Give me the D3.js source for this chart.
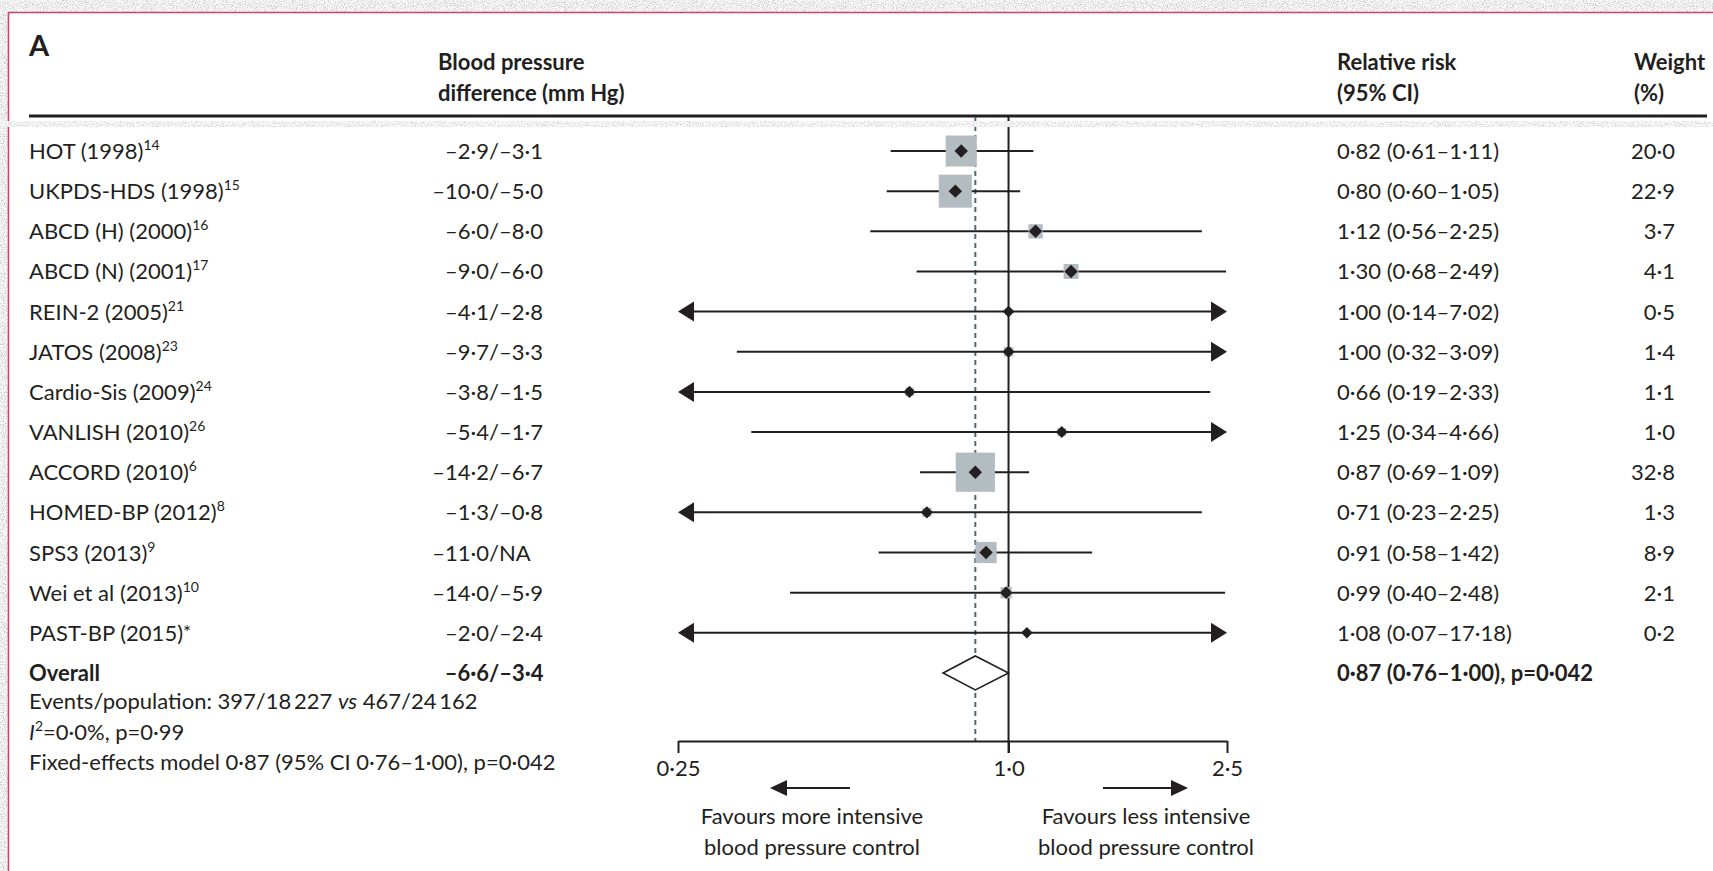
<!DOCTYPE html>
<html>
<head>
<meta charset="utf-8">
<script src="https://cdn.jsdelivr.net/npm/d3@7"></script>
<style>
  html, body { margin: 0; padding: 0; background: #fff; }
  svg { display: block; }
  text { font-family: Lato, "Noto Sans", sans-serif; fill: #231f20; }
</style>
</head>
<body>
<svg id="chart" width="1713" height="871"></svg>
<script>
// ---- Data -------------------------------------------------------------
const studies = ["HOT (1998)", "UKPDS-HDS (1998)", "ABCD (H) (2000)", "ABCD (N) (2001)",
  "REIN-2 (2005)", "JATOS (2008)", "Cardio-Sis (2009)", "VANLISH (2010)", "ACCORD (2010)",
  "HOMED-BP (2012)", "SPS3 (2013)", "Wei et al (2013)", "PAST-BP (2015)"];
const refs = ["14", "15", "16", "17", "21", "23", "24", "26", "6", "8", "9", "10", "*"];
const sbpDiff = [-2.9, -10.0, -6.0, -9.0, -4.1, -9.7, -3.8, -5.4, -14.2, -1.3, -11.0, -14.0, -2.0];
const dbpDiff = [-3.1, -5.0, -8.0, -6.0, -2.8, -3.3, -1.5, -1.7, -6.7, -0.8, null, -5.9, -2.4];
const rr      = [0.82, 0.80, 1.12, 1.30, 1.00, 1.00, 0.66, 1.25, 0.87, 0.71, 0.91, 0.99, 1.08];
const rrLow   = [0.61, 0.60, 0.56, 0.68, 0.14, 0.32, 0.19, 0.34, 0.69, 0.23, 0.58, 0.40, 0.07];
const rrHigh  = [1.11, 1.05, 2.25, 2.49, 7.02, 3.09, 2.33, 4.66, 1.09, 2.25, 1.42, 2.48, 17.18];
const weights = [20.0, 22.9, 3.7, 4.1, 0.5, 1.4, 1.1, 1.0, 32.8, 1.3, 8.9, 2.1, 0.2];

const overallSbp = -6.6, overallDbp = -3.4;
const overallRR = 0.87, overallLow = 0.76, overallHigh = 1.00, overallP = 0.042;
const heterogeneity = { i2: 0.0, p: 0.99 };
const events = { intensive: [397, 18227], standard: [467, 24162] };

const axisTicks = [0.25, 1.0, 2.5];
const axisTickLabels = ["0·25", "1·0", "2·5"];

// ---- Formatting helpers -------------------------------------------------
const dot = s => s.replace(".", "·");
const f1 = v => (v < 0 ? "–" : "") + dot(Math.abs(v).toFixed(1));
const f2 = v => dot(v.toFixed(2));
const f3 = v => dot(v.toFixed(3));
const thousands = n => d3.format(",")(n).replace(/,/g, "\u2009");

// ---- Canvas ------------------------------------------------------------
const W = 1713, H = 871;
const svg = d3.select("#chart");
const ink = "#231f20";

const defs = svg.append("defs");
const grain = defs.append("filter").attr("id", "grain")
  .attr("x", 0).attr("y", 0).attr("width", "100%").attr("height", "100%");
grain.append("feTurbulence").attr("type", "fractalNoise").attr("baseFrequency", 0.9)
  .attr("numOctaves", 2).attr("seed", 7).attr("result", "n");
grain.append("feColorMatrix").attr("in", "n").attr("type", "matrix")
  .attr("values", "0 0 0 0 0.55  0 0 0 0 0.55  0 0 0 0 0.58  3.2 0 0 0 -1.45");

// paper margin with scanned grain, then the white page
svg.append("rect").attr("width", W).attr("height", H).attr("fill", "#fafafa");
svg.append("rect").attr("width", W).attr("height", H).attr("filter", "url(#grain)");
svg.append("rect").attr("x", 9).attr("y", 13).attr("width", W - 9).attr("height", H - 13).attr("fill", "#fff");

// page frame
svg.append("path").attr("d", `M8.5,${H} V12.5 H${W}`)
  .attr("fill", "none").attr("stroke", "#c9466b").attr("stroke-width", 1.6);

// ---- Scales -------------------------------------------------------------
const x = d3.scaleLog().domain([0.25, 2.5]).range([678, 1227]);
const rowY = d3.scaleLinear().domain([0, 1]).range([151, 191.15]);
const boxSide = d3.scaleSqrt().domain([0, 100]).range([1.7, 67.2]);
const pointHalf = d3.scaleLinear().domain([0.2, 3.7]).range([5.8, 6.7]).clamp(true);

const col = { name: 29, slash: 489, rr: 1337, weight: 1675 };
const fs = 22;
const base = 8; // baseline offset from row centre

// ---- Panel label and headers --------------------------------------------
svg.append("text").attr("x", 29).attr("y", 56).attr("font-size", 29)
  .attr("font-weight", 700).text("A");

const headers = [
  { x: col.slash - 51, lines: ["Blood pressure", "difference (mm Hg)"] },
  { x: col.rr, lines: ["Relative risk", "(95% CI)"] },
  { x: 1634, lines: ["Weight", "(%)"] }
];
headers.forEach(h => {
  h.lines.forEach((l, i) => {
    svg.append("text").attr("x", h.x).attr("y", 70 + i * 31)
      .attr("font-size", fs).attr("font-weight", 700).text(l);
  });
});

svg.append("line").attr("x1", 29).attr("x2", 1707).attr("y1", 116).attr("y2", 116)
  .attr("stroke", ink).attr("stroke-width", 3);

// ---- Reference lines ---------------------------------------------------
const axisY = 741;
svg.append("line").attr("x1", x(1)).attr("x2", x(1)).attr("y1", 117).attr("y2", axisY + 12)
  .attr("stroke", ink).attr("stroke-width", 2);
svg.append("line").attr("x1", x(overallRR)).attr("x2", x(overallRR)).attr("y1", 117).attr("y2", axisY)
  .attr("stroke", "#4d6877").attr("stroke-width", 2).attr("stroke-dasharray", "5,4");

// ---- Study rows ----------------------------------------------------------
const [dMin, dMax] = x.domain();
const arrowLen = 16, arrowHalf = 10;

const rows = svg.append("g").selectAll("g").data(studies).join("g")
  .attr("transform", (d, i) => `translate(0,${rowY(i)})`);

// study name with reference superscript
rows.append("text").attr("x", col.name).attr("y", base).attr("font-size", fs)
  .each(function (d, i) {
    const t = d3.select(this);
    t.append("tspan").text(d);
    const star = refs[i] === "*";
    t.append("tspan").attr("font-size", star ? 19 : 14).attr("dy", star ? -2 : -9).text(refs[i]);
  });

// blood pressure difference, aligned on the slash
rows.append("text").attr("x", col.slash).attr("y", base).attr("font-size", fs)
  .attr("text-anchor", "end").text((d, i) => f1(sbpDiff[i]));
rows.append("text").attr("x", col.slash).attr("y", base).attr("font-size", fs)
  .text((d, i) => "/" + (dbpDiff[i] == null ? "NA" : f1(dbpDiff[i])));

// relative risk text and weight
rows.append("text").attr("x", col.rr).attr("y", base).attr("font-size", fs)
  .text((d, i) => `${f2(rr[i])} (${f2(rrLow[i])}–${f2(rrHigh[i])})`);
rows.append("text").attr("x", col.weight).attr("y", base).attr("font-size", fs)
  .attr("text-anchor", "end").text((d, i) => f1(weights[i]));

// confidence interval lines, with arrows where they run off the scale
rows.each(function (d, i) {
  const g = d3.select(this);
  const lo = rrLow[i], hi = rrHigh[i];
  const x0 = lo < dMin ? x(dMin) + arrowLen : x(lo);
  const x1 = hi > dMax ? x(dMax) - arrowLen : x(hi);
  g.append("line").attr("x1", x0).attr("x2", x1).attr("y1", 0).attr("y2", 0)
    .attr("stroke", ink).attr("stroke-width", 2);
  if (lo < dMin) {
    const t = x(dMin);
    g.append("path").attr("d", `M${t},0 L${t + arrowLen},${-arrowHalf} L${t + arrowLen},${arrowHalf} Z`)
      .attr("fill", ink);
  }
  if (hi > dMax) {
    const t = x(dMax);
    g.append("path").attr("d", `M${t},0 L${t - arrowLen},${-arrowHalf} L${t - arrowLen},${arrowHalf} Z`)
      .attr("fill", ink);
  }
});

// weight boxes
rows.append("rect")
  .attr("x", (d, i) => x(rr[i]) - boxSide(weights[i]) / 2)
  .attr("y", (d, i) => -boxSide(weights[i]) / 2)
  .attr("width", (d, i) => boxSide(weights[i]))
  .attr("height", (d, i) => boxSide(weights[i]))
  .attr("fill", "#b3bcc1");

// point estimates
rows.append("path")
  .attr("d", (d, i) => {
    const cx = x(rr[i]), h = pointHalf(weights[i]);
    return `M${cx - h},0 L${cx},${-h} L${cx + h},0 L${cx},${h} Z`;
  })
  .attr("fill", ink);

// ---- Overall row ---------------------------------------------------------
const oy = rowY(studies.length);
svg.append("text").attr("x", col.name).attr("y", oy + base).attr("font-size", fs)
  .attr("font-weight", 700).text("Overall");
svg.append("text").attr("x", col.slash).attr("y", oy + base).attr("font-size", fs)
  .attr("font-weight", 700).attr("text-anchor", "end").text(f1(overallSbp));
svg.append("text").attr("x", col.slash).attr("y", oy + base).attr("font-size", fs)
  .attr("font-weight", 700).text("/" + f1(overallDbp));
svg.append("text").attr("x", col.rr).attr("y", oy + base).attr("font-size", fs)
  .attr("font-weight", 700)
  .text(`${f2(overallRR)} (${f2(overallLow)}–${f2(overallHigh)}), p=${f3(overallP)}`);

const dh = 17;
svg.append("path")
  .attr("d", `M${x(overallLow)},${oy} L${x(overallRR)},${oy - dh} L${x(overallHigh)},${oy} L${x(overallRR)},${oy + dh} Z`)
  .attr("fill", "#fff").attr("stroke", ink).attr("stroke-width", 1.6);

// ---- Summary notes -------------------------------------------------------
const notes = svg.append("g").attr("font-size", fs);
const n1 = notes.append("text").attr("x", col.name).attr("y", 709);
n1.append("tspan").text(`Events/population: ${events.intensive[0]}/${thousands(events.intensive[1])} `);
n1.append("tspan").attr("font-style", "italic").text("vs");
n1.append("tspan").text(` ${events.standard[0]}/${thousands(events.standard[1])}`);

const n2 = notes.append("text").attr("x", col.name).attr("y", 740);
n2.append("tspan").attr("font-style", "italic").text("I");
n2.append("tspan").attr("font-size", 14).attr("dy", -9).text("2");
n2.append("tspan").attr("dy", 9).text(`=${f1(heterogeneity.i2)}%, p=${f2(heterogeneity.p)}`);

notes.append("text").attr("x", col.name).attr("y", 770)
  .text(`Fixed-effects model ${f2(overallRR)} (95% CI ${f2(overallLow)}–${f2(overallHigh)}), p=${f3(overallP)}`);

// ---- Axis ----------------------------------------------------------------
const axis = d3.axisBottom(x).tickValues(axisTicks)
  .tickFormat((d, i) => axisTickLabels[i]).tickSize(12).tickSizeOuter(0).tickPadding(7);
const ag = svg.append("g").attr("transform", `translate(0,${axisY})`).call(axis);
ag.attr("font-size", fs).attr("font-family", null);
ag.select(".domain").attr("stroke", ink).attr("stroke-width", 2);
ag.selectAll(".tick line").attr("stroke", ink).attr("stroke-width", 2);
ag.selectAll(".tick text").attr("fill", ink);

// ---- Direction arrows and captions --------------------------------------
const dirY = 788;
const dirs = [
  { tail: 850, tip: 770, cx: 812, lines: ["Favours more intensive", "blood pressure control"] },
  { tail: 1103, tip: 1188, cx: 1146, lines: ["Favours less intensive", "blood pressure control"] }
];
dirs.forEach(dd => {
  const s = Math.sign(dd.tip - dd.tail);
  svg.append("line").attr("x1", dd.tail).attr("x2", dd.tip - s * 14).attr("y1", dirY).attr("y2", dirY)
    .attr("stroke", ink).attr("stroke-width", 2);
  svg.append("path")
    .attr("d", `M${dd.tip},${dirY} L${dd.tip - s * 17},${dirY - 8} L${dd.tip - s * 17},${dirY + 8} Z`)
    .attr("fill", ink);
  dd.lines.forEach((l, i) => {
    svg.append("text").attr("x", dd.cx).attr("y", 824 + i * 31).attr("font-size", fs)
      .attr("text-anchor", "middle").text(l);
  });
});

// ---- Scan seam across the page -------------------------------------------
svg.append("rect").attr("x", 0).attr("y", 121).attr("width", W).attr("height", 6).attr("fill", "#fbfbfb");
svg.append("rect").attr("x", 0).attr("y", 121).attr("width", W).attr("height", 6)
  .attr("filter", "url(#grain)").attr("opacity", 0.8);
</script>
</body>
</html>
